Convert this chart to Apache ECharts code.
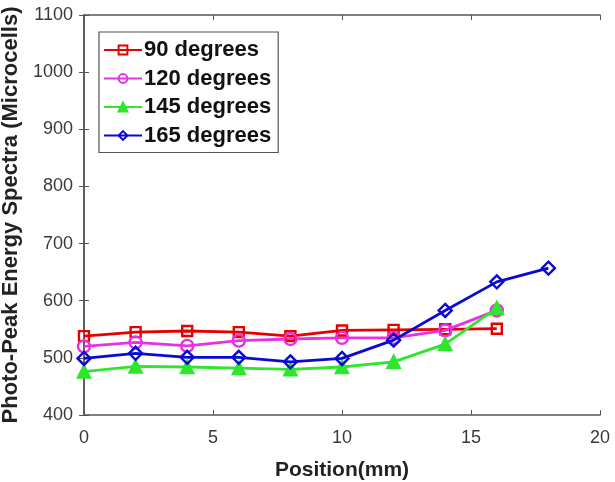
<!DOCTYPE html>
<html>
<head>
<meta charset="utf-8">
<script src="https://cdn.jsdelivr.net/npm/echarts@6/dist/echarts.min.js"></script>
<style>html,body{margin:0;padding:0;background:#fff}#c{width:615px;height:482px}</style>
</head>
<body>
<div id="c"></div>
<script>
const positions = [0, 2, 4, 6, 8, 10, 12, 14, 16, 18];
const deg90 = [538, 545, 547, 545, 538, 548, 549, 550, 551];
const deg120 = [520, 527, 521, 530, 533, 535, 535, 548, 583];
const deg145 = [476, 485, 484, 482, 480, 484, 493, 524, 587];
const deg165 = [499, 508, 501, 501, 493, 499, 531, 583, 633, 657];
const seriesNames = ['90 degrees', '120 degrees', '145 degrees', '165 degrees'];
const xTicks = [0, 5, 10, 15, 20];
const yTicks = [400, 500, 600, 700, 800, 900, 1000, 1100];

function pairs(vals) { return vals.map((v, i) => [positions[i], v]); }

const colors = ['#e60000', '#e632e6', '#2de62d', '#0a0ad2'];
const symbols = ['rect', 'circle', 'triangle', 'diamond'];
const symSizes = [10, 12, 12, 13];
const datasets = [deg90, deg120, deg145, deg165];

const axisColor = '#555';
const font = 'Liberation Sans, Arial, sans-serif';

const chart = echarts.init(document.getElementById('c'), null, {renderer: 'canvas'});
chart.setOption({
  animation: false,
  backgroundColor: '#fff',
  grid: {left: 84, right: 15, top: 15, bottom: 67, containLabel: false, outerBoundsMode: 'none'},
  legend: {
    orient: 'vertical', left: 99, top: 32,
    itemWidth: 38, itemHeight: 11, itemGap: 6.5,
    padding: [7, 7, 6, 4],
    borderColor: '#555', borderWidth: 1.2, backgroundColor: '#fff',
    textStyle: {fontFamily: font, fontWeight: 'bold', fontSize: 22, color: '#111', padding: [0, 0, 0, -3]},
    data: seriesNames
  },
  xAxis: [{
    type: 'value', min: 0, max: 20, interval: 5,
    name: 'Position(mm)', nameLocation: 'middle', nameGap: 45,
    nameTextStyle: {fontFamily: font, fontWeight: 'bold', fontSize: 21, color: '#222'},
    axisLine: {show: true, lineStyle: {color: axisColor, width: 1.5}},
    axisTick: {show: true, inside: true, length: 5, lineStyle: {color: axisColor}},
    axisLabel: {fontFamily: font, fontSize: 18, color: '#3a3a3a', margin: 14,
      formatter: v => xTicks.includes(v) ? String(v) : ''},
    splitLine: {show: false}
  }, {
    type: 'value', min: 0, max: 20, interval: 5, position: 'top',
    axisLine: {show: true, lineStyle: {color: axisColor, width: 1.5}},
    axisTick: {show: true, inside: true, length: 5, lineStyle: {color: axisColor}},
    axisLabel: {show: false}, splitLine: {show: false}
  }],
  yAxis: [{
    type: 'value', min: 400, max: 1100, interval: 100,
    name: 'Photo-Peak Energy Spectra (Microcells)', nameLocation: 'middle', nameGap: 56,
    nameTextStyle: {fontFamily: font, fontWeight: 'bold', fontSize: 22, color: '#222'},
    axisLine: {show: true, lineStyle: {color: axisColor, width: 1.5}},
    axisTick: {show: true, inside: true, length: 5, lineStyle: {color: axisColor}},
    axisLabel: {fontFamily: font, fontSize: 18, color: '#3a3a3a', margin: 11,
      formatter: v => yTicks.includes(v) ? String(v) : ''},
    splitLine: {show: false}
  }, {
    type: 'value', min: 400, max: 1100, interval: 100, position: 'right',
    axisLine: {show: true, lineStyle: {color: axisColor, width: 1.5}},
    axisTick: {show: true, inside: true, length: 5, lineStyle: {color: axisColor}},
    axisLabel: {show: false}, splitLine: {show: false}
  }],
  series: datasets.map((d, i) => ({
    name: seriesNames[i], type: 'line', data: pairs(d),
    symbol: symbols[i], symbolSize: symSizes[i],
    lineStyle: {color: colors[i], width: 2.8},
    itemStyle: {color: i === 2 ? colors[i] : 'rgba(255,255,255,0)', borderColor: colors[i], borderWidth: 2.4},
    z: i === 3 ? 5 : 2
  }))
});
</script>
</body>
</html>
